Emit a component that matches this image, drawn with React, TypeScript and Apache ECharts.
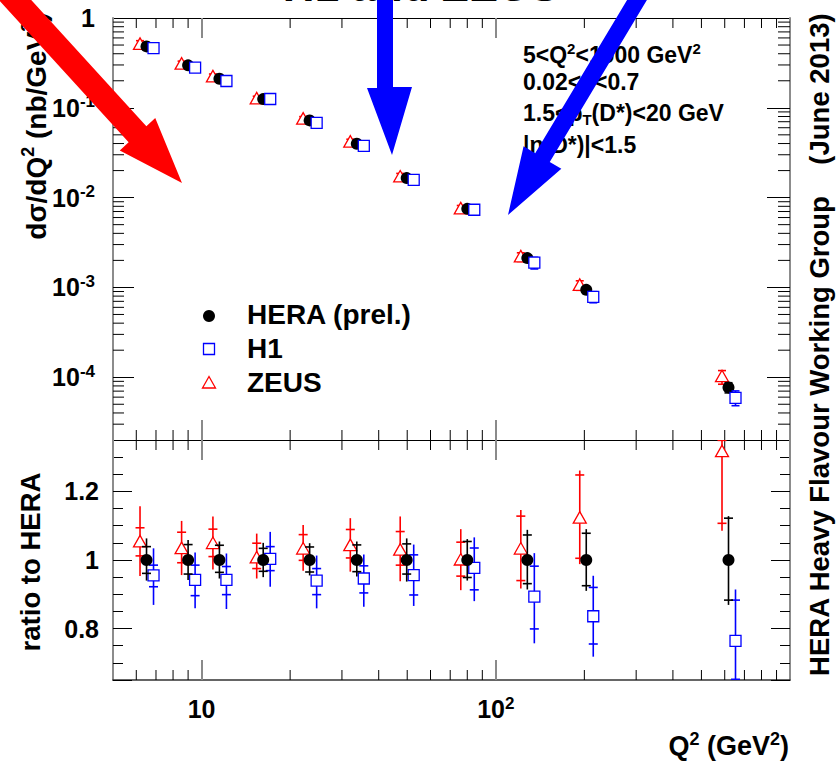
import React, { useEffect, useRef } from 'react';
import * as echarts from 'echarts';

// ---------------- data ----------------
const q2 = [6.5, 9.0, 11.5, 16.2, 23.3, 33.7, 49.8, 80, 128, 203, 618];
const heraXsec = [0.483, 0.297, 0.211, 0.125, 0.0724, 0.0398, 0.0165, 0.0075, 0.00212, 0.00094, 7.7e-5];

// ratio-to-HERA panel: HERA uncertainties
const heraTotLo = [0.940, 0.942, 0.946, 0.950, 0.955, 0.952, 0.937, 0.940, 0.914, 0.910, 0.869];
const heraTotHi = [1.063, 1.058, 1.054, 1.050, 1.049, 1.054, 1.063, 1.061, 1.088, 1.090, 1.128];
const heraStatLo = [0.961, 0.959, 0.964, 0.967, 0.965, 0.966, 0.959, 0.949, 0.931, 0.925, 0.883];
const heraStatHi = [1.039, 1.045, 1.043, 1.034, 1.038, 1.044, 1.047, 1.054, 1.073, 1.078, 1.122];

// H1
const h1Ratio = [0.955, 0.942, 0.942, 1.003, 0.940, 0.946, 0.956, 0.977, 0.893, 0.836, 0.764];
const h1TotLo = [0.869, 0.859, 0.857, 0.922, 0.859, 0.864, 0.866, 0.880, 0.757, 0.718, 0.626];
const h1TotHi = [1.034, 1.022, 1.019, 1.082, 1.013, 1.016, 1.045, 1.066, 1.020, 0.954, 0.914];
const h1StatLo = [0.922, 0.896, 0.899, 0.969, 0.899, 0.904, 0.898, 0.913, 0.799, 0.755, 0.652];
const h1StatHi = [0.985, 0.985, 0.981, 1.039, 0.975, 0.983, 1.015, 1.035, 0.982, 0.920, 0.883];

// ZEUS
const zeusRatio = [1.053, 1.033, 1.048, 1.006, 1.032, 1.042, 1.029, 1.0, 1.032, 1.122, 1.316];
const zeusTotLo = [0.953, 0.956, 0.972, 0.946, 0.969, 0.966, 0.938, 0.912, 0.917, 0.988, 1.085];
const zeusTotHi = [1.157, 1.114, 1.127, 1.077, 1.102, 1.122, 1.127, 1.090, 1.146, 1.261, 1.54];
const zeusStatLo = [1.012, 0.992, 1.010, 0.975, 0.999, 1.006, 0.985, 0.953, 0.940, 1.005, 1.107];
const zeusStatHi = [1.094, 1.081, 1.090, 1.049, 1.074, 1.089, 1.083, 1.052, 1.128, 1.248, 1.349];

// axis ticks
const minorMantissas = [2, 3, 4, 5, 6, 7, 8, 9];
const xDecades = [1, 10, 100];
const yDecades = [1e-5, 1e-4, 1e-3, 1e-2, 1e-1];
const ratioMajorLabels = [0.8, 1, 1.2];

const cutLines = [
  '5<Q{s|2}<1000 GeV{s|2}',
  '0.02<y<0.7',
  '1.5<p{sub|T}(D*)<20 GeV',
  '|η(D*)|<1.5',
];

// ---------------- helpers ----------------
const FONT = "'Liberation Sans', Arial, Helvetica, sans-serif";
const X_MIN = 5, X_MAX = 1000, Y_MIN = 2e-5, Y_MAX = 1;

const xMinorTicks: number[] = [];
xDecades.forEach((d) => minorMantissas.forEach((m) => {
  const v = m * d;
  if (v > X_MIN && v < X_MAX) xMinorTicks.push(v);
}));
const yMinorTicks: number[] = [];
yDecades.forEach((d) => minorMantissas.forEach((m) => {
  const v = m * d;
  if (v > Y_MIN * 1.0001 && v < Y_MAX) yMinorTicks.push(v);
}));

const tickRich: any = {
  b: { fontSize: 25, fontWeight: 'bold', fontFamily: FONT, color: '#000', lineHeight: 26 },
  s: { fontSize: 17, fontWeight: 'bold', fontFamily: FONT, color: '#000', verticalAlign: 'top', height: 14, lineHeight: 14 },
};

const powLabel = (v: number) => {
  const l = Math.log10(v);
  const e = Math.round(l);
  if (Math.abs(l - e) > 1e-6) return '';
  if (e === 0) return '{b|1}';
  if (e === 1) return '{b|10}';
  return `{b|10}{s|${e}}`;
};

const ratioLabel = (v: number) => {
  const r = Math.round(v * 100) / 100;
  return ratioMajorLabels.includes(r) ? `{b|${r}}` : '';
};

type Kind = 'circle' | 'square' | 'triangle';

const pointRenderer = (kind: Kind, color: string, dx: number, ratioMode: boolean) =>
  (params: any, api: any) => {
    const x = api.value(0);
    const p = api.coord([x, api.value(1)]);
    const cx = p[0] + dx;
    const cy = p[1];
    const yLo = api.coord([x, api.value(2)])[1];
    const yHi = api.coord([x, api.value(3)])[1];
    const ySLo = api.coord([x, api.value(4)])[1];
    const ySHi = api.coord([x, api.value(5)])[1];
    const ls = { stroke: color, lineWidth: 1.6 };
    const tick = (y: number, hw: number) => ({
      type: 'line', shape: { x1: cx - hw, y1: y, x2: cx + hw, y2: y }, style: ls,
    });
    const children: any[] = [
      { type: 'line', shape: { x1: cx, y1: yLo, x2: cx, y2: yHi }, style: ls },
    ];
    if (ratioMode) children.push(tick(ySLo, 4.5), tick(ySHi, 4.5));
    else children.push(tick(yLo, 4), tick(yHi, 4));
    if (kind === 'circle') {
      children.push({ type: 'circle', shape: { cx, cy, r: 6 }, style: { fill: '#000' } });
    } else if (kind === 'square') {
      children.push({
        type: 'rect', shape: { x: cx - 5.5, y: cy - 5.5, width: 11, height: 11 },
        style: { fill: '#fff', stroke: color, lineWidth: 1.3 },
      });
    } else {
      children.push({
        type: 'polygon', shape: { points: [[cx, cy - 6.5], [cx - 6.5, cy + 5], [cx + 6.5, cy + 5]] },
        style: { fill: '#fff', stroke: color, lineWidth: 1.3 },
      });
    }
    return { type: 'group', children };
  };

const items = (ratio: number[], lo: number[], hi: number[], slo: number[], shi: number[], scale?: number[]) =>
  q2.map((x, i) => {
    const f = scale ? scale[i] : 1;
    return [x, ratio[i] * f, lo[i] * f, hi[i] * f, slo[i] * f, shi[i] * f];
  });

const ones = q2.map(() => 1);

const xMinorRender = (params: any, api: any) => {
  const cs = params.coordSys;
  const x = api.coord([api.value(0), api.value(1)])[0];
  const st = { stroke: '#000', lineWidth: 1 };
  return {
    type: 'group',
    children: [
      { type: 'line', shape: { x1: x, y1: cs.y, x2: x, y2: cs.y + 10 }, style: st },
      { type: 'line', shape: { x1: x, y1: cs.y + cs.height, x2: x, y2: cs.y + cs.height - 10 }, style: st },
    ],
  };
};

const yMinorRender = (params: any, api: any) => {
  const cs = params.coordSys;
  const y = api.coord([api.value(0), api.value(1)])[1];
  const st = { stroke: '#000', lineWidth: 1 };
  return {
    type: 'group',
    children: [
      { type: 'line', shape: { x1: cs.x, y1: y, x2: cs.x + 11, y2: y }, style: st },
      { type: 'line', shape: { x1: cs.x + cs.width, y1: y, x2: cs.x + cs.width - 12, y2: y }, style: st },
    ],
  };
};

const gRich = (size: number) => ({
  s: { fontSize: Math.round(size * 0.65), fontWeight: 'bold', fontFamily: FONT, fill: '#000', verticalAlign: 'top', height: Math.round(size * 0.5) },
  sub: { fontSize: Math.round(size * 0.65), fontWeight: 'bold', fontFamily: FONT, fill: '#000', verticalAlign: 'bottom', height: Math.round(size * 0.5) },
});

const txt = (text: string, x: number, y: number, size: number, align = 'left', rot = 0) => ({
  type: 'text', x, y, rotation: rot, z: 50, silent: true,
  style: {
    text, fontSize: size, fontWeight: 'bold', fontFamily: FONT, fill: '#000',
    align, verticalAlign: 'middle', textAlign: align, textVerticalAlign: 'middle',
    lineHeight: Math.round(size * 1.08), rich: gRich(size),
  },
});

const arrow = (tip: number[], dir: number[], headLen: number, headHw: number, shaftHw: number, shaftLen: number, color: string) => {
  const n = [-dir[1], dir[0]];
  const M = [tip[0] - headLen * dir[0], tip[1] - headLen * dir[1]];
  const S = [M[0] - shaftLen * dir[0], M[1] - shaftLen * dir[1]];
  const P = (b: number[], k: number) => [b[0] + k * n[0], b[1] + k * n[1]];
  return {
    type: 'polygon', z: 100, silent: true,
    shape: { points: [P(S, shaftHw), P(M, shaftHw), P(M, headHw), tip, P(M, -headHw), P(M, -shaftHw), P(S, -shaftHw)] },
    style: { fill: color },
  };
};

const norm = (v: number[]) => { const l = Math.hypot(v[0], v[1]); return [v[0] / l, v[1] / l]; };

// ---------------- option ----------------
const xCommon: any = {
  type: 'log', logBase: 10, min: X_MIN, max: X_MAX,
  splitLine: { show: false },
  axisLabel: { show: false },
  axisTick: { show: true, inside: true, length: 20, lineStyle: { color: '#8a8a8a', width: 2 } },
  axisLine: { show: true, onZero: false, lineStyle: { color: '#000', width: 1 } },
};

const yTopCommon: any = {
  type: 'log', logBase: 10, min: Y_MIN, max: Y_MAX, gridIndex: 0,
  splitLine: { show: false },
  axisLine: { show: true, onZero: false, lineStyle: { color: '#8c8c8c', width: 2 } },
  axisTick: { show: true, inside: true, length: 21, lineStyle: { color: '#000', width: 1 } },
  axisLabel: { show: false },
};

const yRatioCommon: any = {
  type: 'value', min: 0.65, max: 1.35, splitNumber: 3, gridIndex: 1,
  splitLine: { show: false },
  axisLine: { show: true, onZero: false, lineStyle: { color: '#8c8c8c', width: 2 } },
  axisTick: { show: true, inside: true, length: 19, lineStyle: { color: '#000', width: 1 } },
  minorTick: { show: true, splitNumber: 4, length: 10, lineStyle: { color: '#000', width: 1 } },
  axisLabel: { show: false },
};

const topZeus = items(zeusRatio, zeusTotLo, zeusTotHi, zeusStatLo, zeusStatHi, heraXsec);
const topHera = items(ones, heraTotLo, heraTotHi, heraStatLo, heraStatHi, heraXsec);
const topH1 = items(h1Ratio, h1TotLo, h1TotHi, h1StatLo, h1StatHi, heraXsec);
const rZeus = items(zeusRatio, zeusTotLo, zeusTotHi, zeusStatLo, zeusStatHi);
const rHera = items(ones, heraTotLo, heraTotHi, heraStatLo, heraStatHi);
const rH1 = items(h1Ratio, h1TotLo, h1TotHi, h1StatLo, h1StatHi);

const customBase = (name: string, xi: number, yi: number, data: any[], renderItem: any, z = 3) => ({
  type: 'custom', name, xAxisIndex: xi, yAxisIndex: yi, data, renderItem,
  encode: { x: 0, y: 1 }, clip: true, silent: true, z,
});

const option: any = {
  animation: false,
  backgroundColor: '#fff',
  grid: [
    { left: 113, top: 18, width: 677, height: 422, show: false, containLabel: false, outerBoundsMode: 'none' },
    { left: 113, top: 440, width: 677, height: 240, show: false, containLabel: false, outerBoundsMode: 'none' },
  ],
  xAxis: [
    { ...xCommon, gridIndex: 0, position: 'bottom' },
    { ...xCommon, gridIndex: 0, position: 'top' },
    {
      ...xCommon, gridIndex: 1, position: 'bottom',
      axisLine: { show: true, onZero: false, lineStyle: { color: '#333', width: 1.5 } },
      axisLabel: {
        show: true, margin: 16, formatter: powLabel, rich: tickRich, showMinLabel: false, showMaxLabel: false,
        fontFamily: FONT, fontWeight: 'bold', fontSize: 25, color: '#000',
      },
    },
    { ...xCommon, gridIndex: 1, position: 'top' },
  ],
  yAxis: [
    {
      ...yTopCommon, position: 'left',
      axisLabel: {
        show: true, margin: 18, formatter: powLabel, rich: tickRich, showMinLabel: false,
        fontFamily: FONT, fontWeight: 'bold', fontSize: 25, color: '#000',
      },
    },
    { ...yTopCommon, position: 'right', axisTick: { ...yTopCommon.axisTick, length: 23 } },
    {
      ...yRatioCommon, position: 'left',
      axisLabel: {
        show: true, margin: 14, formatter: ratioLabel, rich: tickRich, showMinLabel: false, showMaxLabel: false,
        fontFamily: FONT, fontWeight: 'bold', fontSize: 25, color: '#000',
      },
    },
    { ...yRatioCommon, position: 'right' },
  ],
  series: [
    customBase('xminor-top', 0, 0, xMinorTicks.map((v) => [v, 0.01]), xMinorRender, 1),
    customBase('yminor-top', 0, 0, yMinorTicks.map((v) => [10, v]), yMinorRender, 1),
    customBase('xminor-bottom', 2, 2, xMinorTicks.map((v) => [v, 1]), xMinorRender, 1),
    customBase('ZEUS', 0, 0, topZeus, pointRenderer('triangle', '#ff0000', -6.5, false)),
    customBase('HERA (prel.)', 0, 0, topHera, pointRenderer('circle', '#000000', 0, false)),
    customBase('H1', 0, 0, topH1, pointRenderer('square', '#0000ff', 7, false)),
    customBase('ZEUS ratio', 2, 2, rZeus, pointRenderer('triangle', '#ff0000', -6.5, true)),
    customBase('H1 ratio', 2, 2, rH1, pointRenderer('square', '#0000ff', 7, true)),
    customBase('HERA ratio', 2, 2, rHera, pointRenderer('circle', '#000000', 0, true)),
  ],
  graphic: {
    elements: [
      // title (mostly above the page, as in the reference)
      txt('H1 and ZEUS', 421, -15, 44, 'center'),
      // axis titles
      txt('dσ/dQ{s|2} (nb/GeV{s|2})', 36, 126, 28, 'center', Math.PI / 2),
      txt('ratio to HERA', 30, 562, 27.5, 'center', Math.PI / 2),
      txt('Q{s|2} (GeV{s|2})', 789, 746, 27, 'right'),
      txt('HERA Heavy Flavour Working Group', 819, 436, 27.5, 'center', Math.PI / 2),
      txt('(June 2013)', 819, 89, 27.5, 'center', Math.PI / 2),
      // cuts
      txt(cutLines[0], 523, 55, 23),
      txt(cutLines[1], 523, 82, 23),
      txt(cutLines[2], 523, 113, 23),
      txt(cutLines[3], 523, 145, 23),
      // legend
      { type: 'circle', z: 50, shape: { cx: 209, cy: 316, r: 6 }, style: { fill: '#000' } },
      { type: 'rect', z: 50, shape: { x: 203.5, y: 343.5, width: 11, height: 11 }, style: { fill: '#fff', stroke: '#0000ff', lineWidth: 1.3 } },
      { type: 'polygon', z: 50, shape: { points: [[209, 376.5], [202.5, 388], [215.5, 388]] }, style: { fill: '#fff', stroke: '#ff0000', lineWidth: 1.3 } },
      txt('HERA (prel.)', 247, 314, 28),
      txt('H1', 247, 348, 28),
      txt('ZEUS', 247, 382.5, 28),
      // annotation arrows
      arrow([182, 183], norm([167, 183]), 66, 24, 12, 220, '#ff0000'),
      {
        type: 'polygon', z: 100, silent: true,
        shape: { points: [[377, -5], [377, 88], [367, 88], [392, 155], [412, 87], [393, 87], [393, -5]] },
        style: { fill: '#0000ff' },
      },
      arrow([508, 215], norm([-34.5, 57.5]), 67, 22, 8.5, 200, '#0000ff'),
    ],
  },
};

export default function App() {
  const ref = useRef<HTMLDivElement>(null);
  useEffect(() => {
    document.body.style.margin = '0';
    const chart = echarts.init(ref.current as HTMLDivElement, undefined, { renderer: 'svg' });
    chart.setOption(option);
    return () => chart.dispose();
  }, []);
  return (
    <div
      ref={ref}
      style={{ position: 'absolute', left: 0, top: 0, width: 837, height: 764, background: '#fff' }}
    />
  );
}
